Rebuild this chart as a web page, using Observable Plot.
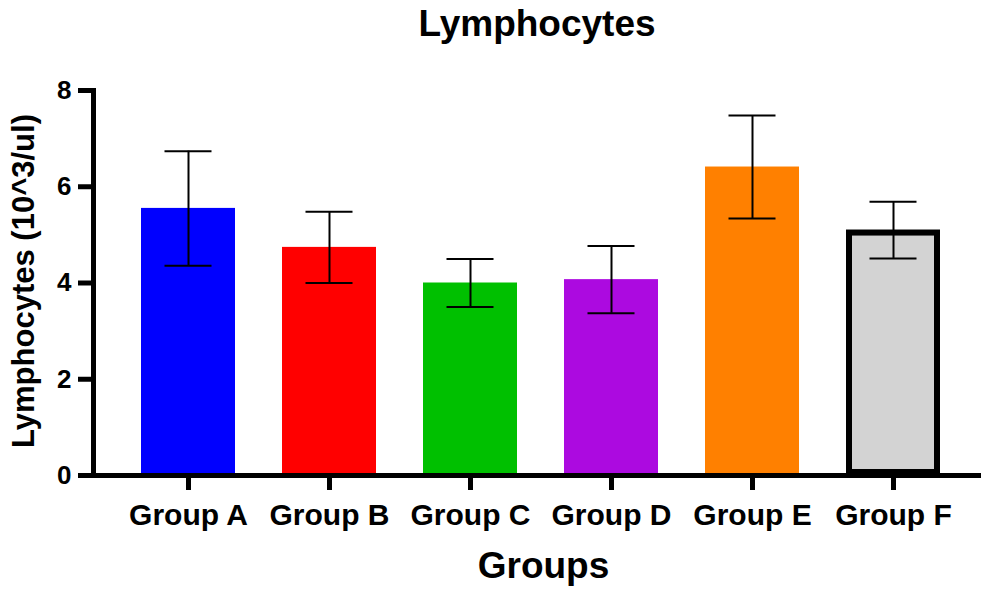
<!DOCTYPE html>
<html>
<head>
<meta charset="utf-8">
<script src="https://cdn.jsdelivr.net/npm/d3@7"></script>
<script src="https://cdn.jsdelivr.net/npm/@observablehq/plot@0.6"></script>
<style>
  html, body { margin: 0; padding: 0; background: #fff; }
  #chart { width: 981px; font-family: "Liberation Sans", Arial, sans-serif; }
  #title {
    height: 54px; padding-top: 6px; padding-left: 93px;
    font-size: 37px; line-height: 36px; font-weight: bold; text-align: center; color: #000;
  }
</style>
</head>
<body>
<div id="chart">
  <div id="title">Lymphocytes</div>
</div>
<script>
// Lymphocyte counts per group: mean and standard deviation (10^3/ul)
const groups = ["Group A", "Group B", "Group C", "Group D", "Group E", "Group F"];
const means  = [5.55, 4.74, 4.00, 4.07, 6.41, 5.10];
const sds    = [1.19, 0.74, 0.50, 0.70, 1.07, 0.59];
const yTicks = [0, 2, 4, 6, 8];

// Fill colour for each group's bar
const palette = ["#0000ff", "#ff0000", "#00c000", "#ac0ae0", "#ff8000", "#d3d3d3"];

const rows = groups.map((g, i) => ({group: g, mean: means[i], lo: means[i] - sds[i], hi: means[i] + sds[i]}));
const outlined = rows.filter(d => d.group === "Group F");

const chart = Plot.plot({
  width: 981,
  height: 531,
  marginLeft: 93,
  marginRight: 0,
  marginTop: 30,
  marginBottom: 116,
  style: {fontFamily: "'Liberation Sans', Arial, sans-serif", fontWeight: "bold", color: "#000", background: "#fff"},
  x: {domain: groups, range: [117.5, 963.5], paddingInner: 1 / 3, paddingOuter: 1 / 6, label: null},
  y: {domain: [0, 8], label: null},
  color: {domain: groups, range: palette},
  marks: [
    Plot.barY(rows, {x: "group", y: "mean", fill: "group"}),
    Plot.barY(outlined, {x: "group", y: "mean", fill: "none", stroke: "#000", strokeWidth: 6, inset: 3}),
    Plot.ruleX(rows, {x: "group", y1: "lo", y2: "hi", stroke: "#000", strokeWidth: 2}),
    Plot.tickY(rows, {x: "group", y: "hi", stroke: "#000", strokeWidth: 2, insetLeft: 23.5, insetRight: 23.5}),
    Plot.tickY(rows, {x: "group", y: "lo", stroke: "#000", strokeWidth: 2, insetLeft: 23.5, insetRight: 23.5}),
    Plot.axisY({ticks: yTicks, tickSize: 15, tickPadding: 7, strokeWidth: 5, fontSize: 26, fontWeight: "bold", label: null}),
    Plot.axisX({tickSize: 15, tickPadding: 13, strokeWidth: 5, fontSize: 30, fontWeight: "bold", letterSpacing: "-0.6px", label: null}),
    Plot.frame({anchor: "left", strokeWidth: 5, strokeLinecap: "square"}),
    Plot.frame({anchor: "bottom", strokeWidth: 5}),
    Plot.text(["Groups"], {frameAnchor: "bottom", text: d => d, dx: 6, dy: 102, fontSize: 37, fontWeight: "bold", letterSpacing: "0.5px"}),
    Plot.text(["Lymphocytes (10^3/ul)"], {frameAnchor: "left", textAnchor: "middle", text: d => d, rotate: -90, dx: -69, dy: -2, fontSize: 31, fontWeight: "bold"})
  ]
});

document.getElementById("chart").appendChild(chart);
</script>
</body>
</html>
